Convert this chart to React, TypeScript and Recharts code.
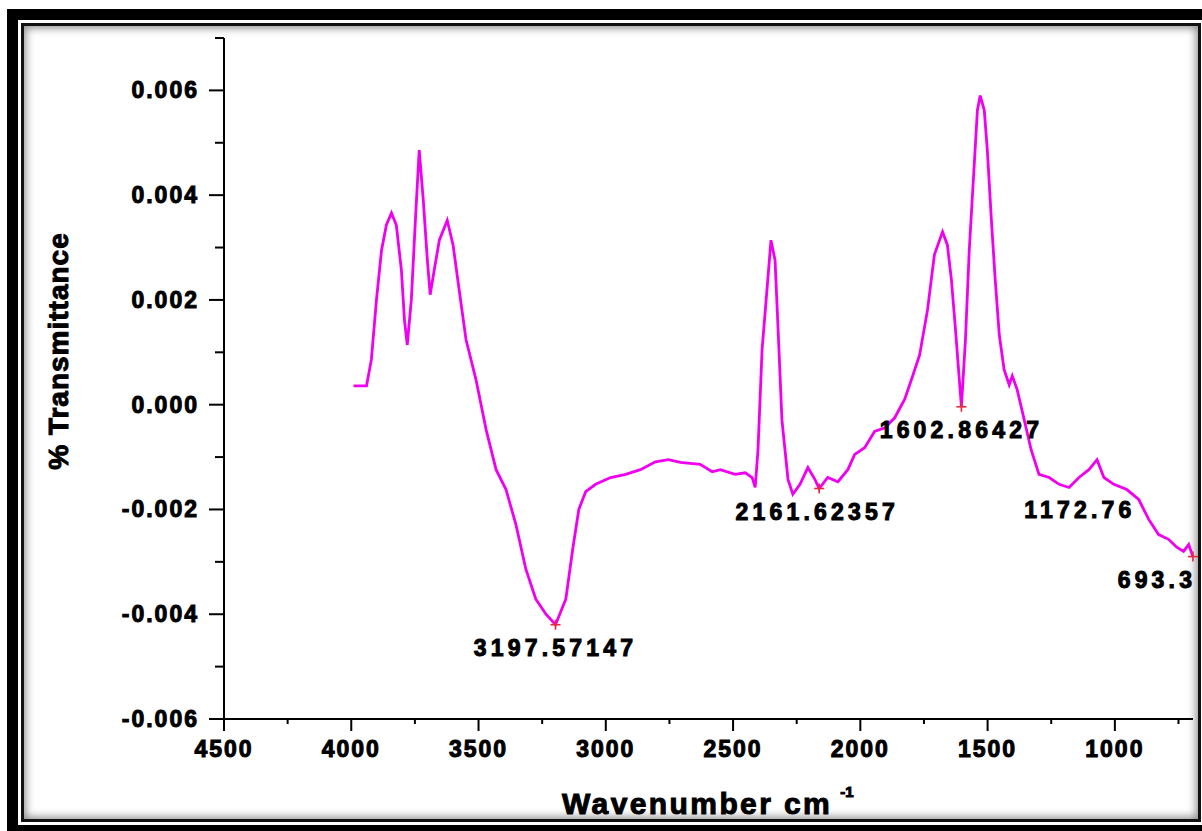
import React from 'react';
import { LineChart, Line, XAxis, YAxis, ReferenceDot } from 'recharts';

// wavenumber (cm-1) and transmittance
const wavenumbers = [
  3991, 3940, 3921, 3901, 3881, 3862, 3842, 3823, 3803, 3791, 3780, 3764, 3748, 3733, 3717, 3701,
  3690, 3674, 3654, 3623, 3600, 3576, 3549, 3510, 3470, 3431, 3392, 3353, 3314, 3275, 3235, 3197.57,
  3157, 3130, 3106, 3079, 3040, 2981, 2922, 2864, 2805, 2754, 2707, 2629, 2582, 2550, 2492, 2452,
  2425, 2413, 2402, 2386, 2370, 2351, 2335, 2323, 2308, 2284, 2265, 2237, 2206, 2178, 2161.62, 2128,
  2088, 2049, 2022, 1983, 1944, 1904, 1865, 1826, 1799, 1767, 1736, 1709, 1677, 1658, 1642, 1626,
  1602.86, 1587, 1572, 1556, 1540, 1529, 1513, 1501, 1485, 1470, 1454, 1435, 1415, 1403, 1384, 1356,
  1329, 1298, 1258, 1219, 1180, 1141, 1102, 1070, 1043, 1004, 953, 906, 867, 828, 789, 757,
  730, 710, 693.3,
];

const transmittance = [
  0.00036, 0.00036, 0.00086, 0.002, 0.00295, 0.00343, 0.00366, 0.00343, 0.00257, 0.00162, 0.00114, 0.002, 0.00352, 0.00486, 0.0039, 0.00276,
  0.0021, 0.00257, 0.00314, 0.00352, 0.00305, 0.00219, 0.00124, 0.00048, -0.00048, -0.00124, -0.00162, -0.00229, -0.00314, -0.00371, -0.004, -0.0042,
  -0.00371, -0.00276, -0.002, -0.00166, -0.00152, -0.00139, -0.00133, -0.00124, -0.00109, -0.00105, -0.0011, -0.00114, -0.00128, -0.00124, -0.00133, -0.0013,
  -0.00139, -0.00158, -0.00086, 0.00105, 0.002, 0.00314, 0.00276, 0.00143, -0.00029, -0.00143, -0.00171, -0.00152, -0.0012, -0.00143, -0.0016, -0.00139,
  -0.00147, -0.00124, -0.00095, -0.00082, -0.00051, -0.00044, -0.00025, 0.0001, 0.00048, 0.00095, 0.00181, 0.00286, 0.0033, 0.00305, 0.00238, 0.00143,
  -0.00004, 0.00124, 0.00295, 0.00429, 0.00562, 0.0059, 0.00562, 0.00486, 0.00352, 0.00238, 0.00133, 0.00067, 0.00038, 0.00055, 0.00029, -0.00029,
  -0.00086, -0.00133, -0.00139, -0.00152, -0.00158, -0.00139, -0.00124, -0.00105, -0.00139, -0.00152, -0.00162, -0.00181, -0.00219, -0.00248, -0.00257, -0.00272,
  -0.0028, -0.00267, -0.0029,
];

// picked peaks
const peakX = [3197.57147, 2161.62357, 1602.86427, 1172.76, 693.3];
const peakY = [-0.0042, -0.0016, -0.00004, -0.00158, -0.0029];
const peakLabels = ['3197.57147', '2161.62357', '1602.86427', '1172.76', '693.3'];
const peakMarked = [true, true, true, false, true];

const xTicks = [4500, 4250, 4000, 3750, 3500, 3250, 3000, 2750, 2500, 2250, 2000, 1750, 1500, 1250, 1000, 750];
const yTicks = [-0.006, -0.005, -0.004, -0.003, -0.002, -0.001, 0, 0.001, 0.002, 0.003, 0.004, 0.005, 0.006, 0.007];

const data = wavenumbers.map((w, i) => ({ w, t: transmittance[i] }));

const FONT = '"Liberation Sans", Arial, sans-serif';
const labelDx = [0, -2, 0, 9, -36];

const textStyle = {
  fontFamily: FONT,
  fontWeight: 700,
  fill: '#000',
  stroke: '#000',
  strokeWidth: 1,
};

const YTick = (props: any) => {
  const { x, y, payload } = props;
  const major = Math.round(payload.value * 1000) % 2 === 0;
  return (
    <g>
      <line x1={x} x2={x - (major ? 15 : 9)} y1={y} y2={y} stroke="#000" strokeWidth={2} />
      {major && (
        <text x={x - 25} y={y + 8} textAnchor="end" fontSize={23} letterSpacing={2} style={textStyle}>
          {payload.value.toFixed(3)}
        </text>
      )}
    </g>
  );
};

const XTick = (props: any) => {
  const { x, y, payload } = props;
  const major = payload.value % 500 === 0;
  return (
    <g>
      <line x1={x} x2={x} y1={y} y2={y + (major ? 12 : 5)} stroke="#000" strokeWidth={2} />
      {major && (
        <text x={x} y={y + 38} textAnchor="middle" fontSize={23} letterSpacing={2} style={textStyle}>
          {payload.value}
        </text>
      )}
    </g>
  );
};

const YTitle = ({ viewBox }: any) => {
  const cx = viewBox.x + 58;
  const cy = viewBox.y + 313;
  return (
    <text
      x={cx}
      y={cy}
      transform={`rotate(-90 ${cx} ${cy})`}
      textAnchor="middle"
      dominantBaseline="central"
      fontSize={28}
      letterSpacing={1}
      style={textStyle}
    >
      % Transmittance
    </text>
  );
};

const XTitle = ({ viewBox }: any) => (
  <text x={viewBox.x + 338} y={viewBox.y + 95} fontSize={30} letterSpacing={2.4} style={textStyle}>
    Wavenumber cm
    <tspan dx={8} dy={-17} fontSize={15} letterSpacing={0}>-1</tspan>
  </text>
);

const PeakMark = ({ cx, cy, label, dx, mark }: any) => (
  <g>
    {mark && (
      <g stroke="#e8283c" strokeWidth={1.6}>
        <line x1={cx - 5} x2={cx + 5} y1={cy} y2={cy} />
        <line x1={cx} x2={cx} y1={cy - 5} y2={cy + 5} />
      </g>
    )}
    <text x={cx + dx} y={cy + 31} textAnchor="middle" fontSize={23} letterSpacing={4.2} style={textStyle}>
      {label}
    </text>
  </g>
);

const App = () => {
  return (
    <div style={{ position: 'absolute', left: 0, top: 0, width: 1202, height: 831, overflow: 'hidden', background: '#fff' }}>
      <div
        style={{
          position: 'absolute', left: 7, top: 9, width: 1208, height: 827,
          border: '11px solid #000', boxSizing: 'border-box',
        }}
      />
      <div
        style={{
          position: 'absolute', left: 21, top: 23, width: 1180, height: 799,
          border: '3px solid #111', boxSizing: 'border-box',
          boxShadow: 'inset 0 0 9px 2px rgba(0,0,0,0.45)', background: '#fff',
        }}
      />
      <div style={{ position: 'absolute', left: 0, top: 0 }}>
        <LineChart width={1202} height={831} data={data} margin={{ top: 38, right: 9, left: 0, bottom: 0 }}>
          <XAxis
            dataKey="w"
            type="number"
            domain={[693, 4500]}
            reversed
            ticks={xTicks}
            interval={0}
            height={112}
            tickSize={0}
            tickMargin={0}
            tickLine={false}
            tick={<XTick />}
            axisLine={{ stroke: '#000', strokeWidth: 2 }}
            label={<XTitle />}
          />
          <YAxis
            type="number"
            domain={[-0.006, 0.007]}
            ticks={yTicks}
            interval={0}
            width={224}
            tickSize={0}
            tickMargin={0}
            tickLine={false}
            tick={<YTick />}
            axisLine={{ stroke: '#000', strokeWidth: 2 }}
            label={<YTitle />}
          />
          <Line
            type="linear"
            dataKey="t"
            stroke="#f000f0"
            strokeWidth={2.8}
            dot={false}
            isAnimationActive={false}
          />
          {peakX.map((p, i) => (
            <ReferenceDot
              key={p}
              x={p}
              y={peakY[i]}
              ifOverflow="visible"
              shape={(s: any) => (
                <PeakMark cx={s.cx} cy={s.cy} label={peakLabels[i]} dx={labelDx[i]} mark={peakMarked[i]} />
              )}
            />
          ))}
        </LineChart>
      </div>
    </div>
  );
};

export default App;
